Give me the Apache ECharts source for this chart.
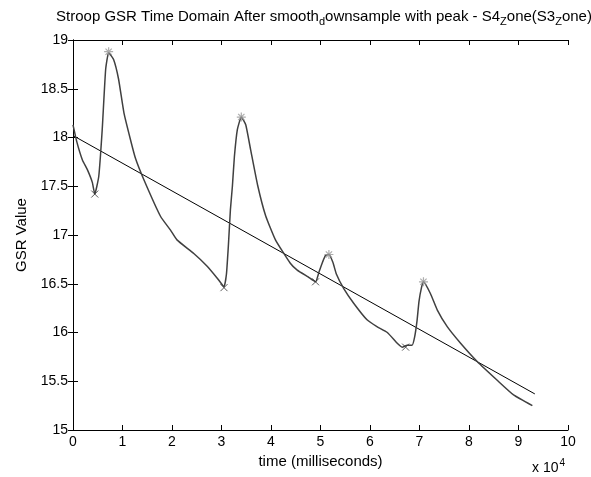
<!DOCTYPE html>
<html><head><meta charset="utf-8">
<script src="https://cdn.jsdelivr.net/npm/echarts@6/dist/echarts.min.js"></script>
<style>html,body{margin:0;padding:0;background:#fff}#c{width:591px;height:477px}</style>
</head><body><div id="c"></div>
<script>
// time in units of 1e4 ms, GSR values
var timeX = [0.00,0.08,0.19,0.29,0.39,0.44,0.52,0.59,0.66,0.72,0.82,0.92,1.03,1.16,1.26,1.43,1.77,1.97,2.10,2.44,2.71,2.91,3.05,3.10,3.14,3.18,3.22,3.26,3.32,3.40,3.49,3.59,3.73,3.89,4.09,4.39,4.53,4.75,4.90,4.97,5.04,5.10,5.17,5.25,5.32,5.47,5.67,5.94,6.14,6.35,6.55,6.65,6.75,6.85,6.90,6.95,6.99,7.04,7.08,7.22,7.36,7.56,7.83,8.17,8.57,8.90,9.28];
var gsrY  = [18.13,17.95,17.77,17.67,17.54,17.42,17.60,18.08,18.70,18.87,18.80,18.60,18.25,17.98,17.79,17.57,17.19,17.05,16.95,16.81,16.68,16.56,16.47,16.60,16.90,17.26,17.50,17.80,18.08,18.21,18.13,17.87,17.51,17.20,16.95,16.71,16.64,16.57,16.52,16.62,16.72,16.79,16.80,16.72,16.60,16.45,16.30,16.13,16.06,16.00,15.89,15.85,15.87,15.87,15.95,16.12,16.32,16.46,16.52,16.40,16.23,16.06,15.89,15.70,15.51,15.36,15.25];
var peakX = [0.72,3.40,5.17,7.08];
var peakY = [18.88,18.21,16.80,16.52];
var valleyX = [0.44,3.05,4.90,6.72];
var valleyY = [17.42,16.46,16.52,15.85];
var trendX = [0.00,9.33];
var trendY = [18.02,15.37];
var xTicks = [0,1,2,3,4,5,6,7,8,9,10];
var yTicks = [15,15.5,16,16.5,17,17.5,18,18.5,19];
var SCALE = 10000;

function pairs(xs, ys){ return xs.map(function(x,i){ return [x*SCALE, ys[i]]; }); }

var chart = echarts.init(document.getElementById('c'));
var font = 'Liberation Sans, Arial, sans-serif';
var starPath = 'path://M0,-5L0,5M-5,0L5,0M-3.5,-3.5L3.5,3.5M-3.5,3.5L3.5,-3.5';
var crossPath = 'path://M-4,-4L4,4M-4,4L4,-4';
var axisLine = {show:true, lineStyle:{color:'#000', width:1}};
chart.setOption({
  animation:false,
  backgroundColor:'#fff',
  title:{
    text:'Stroop GSR Time Domain After smooth{s|d}ownsample with peak - S4{s|Z}one(S3{s|Z}one)',
    left:319, top:1, textAlign:'center',
    textStyle:{fontFamily:font, fontSize:15, fontWeight:'normal', color:'#000',
      rich:{s:{fontFamily:font, fontSize:11, color:'#000', padding:[10,0,0,0]}}}
  },
  grid:{left:73, right:23, top:40, bottom:47},
  xAxis:[{
    type:'value', min:xTicks[0]*SCALE, max:xTicks[xTicks.length-1]*SCALE, interval:SCALE,
    name:'time (milliseconds)', nameLocation:'middle', nameGap:24,
    nameTextStyle:{fontFamily:font, fontSize:15, color:'#000'},
    axisLine:axisLine, axisTick:{show:true, inside:true, length:5, lineStyle:{color:'#000'}},
    axisLabel:{fontFamily:font, fontSize:14, color:'#000', margin:5, formatter:function(v){return String(v/SCALE);}},
    splitLine:{show:false}
  },{
    type:'value', position:'top', min:xTicks[0]*SCALE, max:xTicks[xTicks.length-1]*SCALE, interval:SCALE,
    axisLine:axisLine, axisTick:{show:true, inside:true, length:5, lineStyle:{color:'#000'}},
    axisLabel:{show:false}, splitLine:{show:false}
  }],
  yAxis:[{
    type:'value', min:yTicks[0], max:yTicks[yTicks.length-1], interval:0.5,
    name:'GSR Value', nameLocation:'middle', nameGap:41, nameRotate:90,
    nameTextStyle:{fontFamily:font, fontSize:15, color:'#000'},
    axisLine:axisLine, axisTick:{show:true, inside:true, length:5, lineStyle:{color:'#000'}},
    axisLabel:{fontFamily:font, fontSize:14, color:'#000', margin:5, formatter:function(v){return String(v);}},
    splitLine:{show:false}
  },{
    type:'value', position:'right', min:yTicks[0], max:yTicks[yTicks.length-1], interval:0.5,
    axisLine:axisLine, axisTick:{show:true, inside:true, length:5, lineStyle:{color:'#000'}},
    axisLabel:{show:false}, splitLine:{show:false}
  }],
  graphic:[{
    type:'text', left:532, top:458,
    style:{text:'x 10{sup|4}', fontFamily:font, fontSize:14, fill:'#000',
      rich:{sup:{fontFamily:font, fontSize:10, fill:'#000', padding:[0,0,10,1]}}}
  }],
  series:[{
    type:'line', data:pairs(timeX, gsrY), smooth:0.15, showSymbol:false,
    lineStyle:{color:'#404040', width:1.5}, z:3
  },{
    type:'line', data:pairs(trendX, trendY), showSymbol:false,
    lineStyle:{color:'#000', width:1}, z:2
  },{
    type:'scatter', data:pairs(peakX, peakY), symbol:starPath, symbolSize:9,
    itemStyle:{color:'none', borderColor:'#999', borderWidth:1.2}, z:4
  },{
    type:'scatter', data:pairs(valleyX, valleyY), symbol:crossPath, symbolSize:7,
    itemStyle:{color:'none', borderColor:'#333', borderWidth:1}, z:4
  }]
});
</script></body></html>
